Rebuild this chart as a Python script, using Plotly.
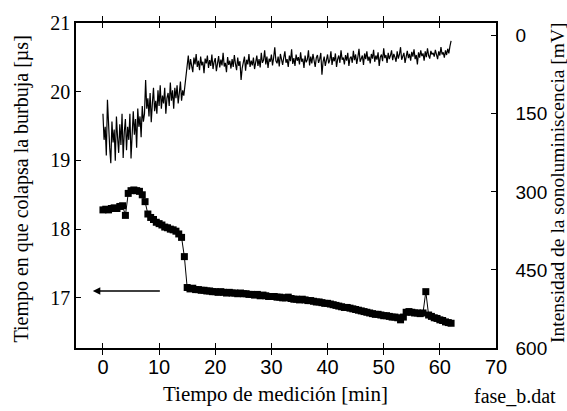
import numpy as np
import plotly.graph_objects as go

# Intensity of sonoluminescence [mV] (right axis), one sample every 0.2 min starting at 0
intensity = [
    150, 200, 175, 230, 123, 190, 215, 245, 165, 205, 180, 240, 155, 195, 225, 170, 210, 150, 235, 185, 160, 220, 175,
    200, 150, 236, 170, 145, 190, 160, 215, 140, 175, 155, 195, 135, 165, 150,
    85, 140, 120, 155, 110, 166, 130, 100, 145, 125, 150, 105, 135, 95, 140, 115, 130, 100, 150, 120,
    110, 135, 90, 125, 105, 140, 100, 120, 95, 130, 110, 88, 125, 105, 115,
    95, 70,
    52, 38, 65, 45, 58, 70, 42, 55, 35, 60, 48, 66, 40, 57, 50, 72, 44, 53, 38, 62,
    47, 58, 36, 64, 50, 43, 68, 55, 39, 61, 46, 57, 33, 59, 52, 70, 41, 56, 48, 63,
    45, 60, 37, 54, 66, 42, 58, 49, 85, 62, 51, 40, 67, 46, 55, 35, 60, 48, 57, 42,
    64, 50, 38, 58, 45, 61, 33, 52, 47, 28, 55, 40, 62, 44, 50, 36, 57, 42, 22, 48,
    53, 40, 59, 35, 47, 56, 42, 30, 52, 45, 60, 38, 49, 26, 54, 43, 58, 36, 48, 41,
    55, 32, 50, 44, 62, 38, 51, 46, 28, 57, 40, 53, 35, 48, 60, 42, 37, 52, 45, 33,
    75, 50, 40, 58, 44, 36, 53, 47, 30, 56, 41, 49, 34, 60, 45, 38, 52, 28, 46, 42,
    55, 37, 48, 33, 58, 43, 40, 52, 29, 47, 36, 54, 41, 25, 50, 44, 38, 56, 34, 45,
    30, 48, 40, 53, 35, 44, 27, 50, 38, 46, 32, 58, 41, 36, 49, 24, 43, 37, 52, 33,
    45, 38, 28, 47, 35, 41, 50, 30, 44, 36, 22, 46, 39, 33, 52, 37, 29, 43, 35, 48,
    31, 40, 26, 45, 37, 55, 32, 42, 28, 39, 34, 48, 30, 41, 24, 38, 44, 29, 36, 33,
    40, 27, 35, 45, 30, 38, 22, 36, 32, 42, 28, 37, 25, 34, 20, 10,
]
t_int = np.round(np.arange(len(intensity)) * 0.2, 2)

# Bubble collapse time [us] (left axis), one sample every 0.5 min starting at 0
collapse = [
    18.28, 18.29, 18.28, 18.30, 18.31, 18.30, 18.33, 18.34,
    18.20, 18.52, 18.56, 18.57, 18.56, 18.55, 18.50, 18.40, 18.22, 18.17, 18.14,
    18.10, 18.08, 18.06, 18.03, 18.02, 18.00, 17.99, 17.97, 17.93, 17.88, 17.60,
    17.15, 17.13, 17.14, 17.12, 17.12, 17.11, 17.11, 17.10, 17.10, 17.09,
    17.09, 17.08, 17.09, 17.08, 17.07, 17.08, 17.07, 17.07, 17.06, 17.07,
    17.06, 17.06, 17.05, 17.05, 17.04, 17.05, 17.03, 17.04, 17.03, 17.02,
    17.02, 17.02, 17.01, 17.01, 17.00, 17.00, 17.01, 16.99, 16.98, 16.98,
    16.97, 16.98, 16.97, 16.96, 16.96, 16.95, 16.94, 16.94, 16.93, 16.92,
    16.92, 16.91, 16.90, 16.89, 16.88, 16.87, 16.86, 16.86, 16.85, 16.84,
    16.83, 16.82, 16.81, 16.80, 16.79, 16.78, 16.77, 16.76, 16.76, 16.75,
    16.74, 16.74, 16.73, 16.72, 16.72, 16.71, 16.68, 16.72, 16.79, 16.80,
    16.79, 16.78, 16.78, 16.77, 16.78, 17.09, 16.75, 16.73, 16.71, 16.70,
    16.68, 16.67, 16.65, 16.64, 16.63,
]
t_col = np.round(np.arange(len(collapse)) * 0.5, 2)

x_ticks = [0, 10, 20, 30, 40, 50, 60, 70]
y_ticks = [17, 18, 19, 20, 21]
y2_ticks = [0, 150, 300, 450, 600]

SERIF = "Liberation Serif, Times New Roman, serif"
SANS = "Liberation Sans, Arial, sans-serif"

fig = go.Figure()
fig.add_trace(go.Scatter(
    x=t_col, y=collapse, mode="lines+markers",
    line=dict(color="black", width=1),
    marker=dict(symbol="square", size=7, color="black"),
    yaxis="y", showlegend=False,
))
fig.add_trace(go.Scatter(
    x=t_int, y=intensity, mode="lines",
    line=dict(color="black", width=1.2),
    yaxis="y2", showlegend=False,
))

fig.update_layout(
    width=567, height=411,
    margin=dict(l=76, r=71, t=17, b=63),
    paper_bgcolor="white", plot_bgcolor="white",
    xaxis=dict(
        range=[-4.8, 70], tickvals=x_ticks, ticks="inside", ticklen=5,
        tickcolor="black", showline=True, linecolor="black", linewidth=1.5,
        mirror="allticks", showgrid=False, zeroline=False,
        tickfont=dict(family=SANS, size=20, color="black"),
    ),
    yaxis=dict(
        range=[16.27, 21], tickvals=y_ticks, ticks="inside", ticklen=5,
        tickcolor="black", showline=True, linecolor="black", linewidth=1.5,
        mirror=True, showgrid=False, zeroline=False,
        tickfont=dict(family=SERIF, size=20, color="black"),
    ),
    yaxis2=dict(
        range=[600, -24.5], tickvals=y2_ticks, ticks="inside", ticklen=5,
        tickcolor="black", overlaying="y", side="right", showline=True,
        linecolor="black", linewidth=1.5, showgrid=False, zeroline=False,
        tickfont=dict(family=SANS, size=19, color="black"),
        ticklabelstandoff=14,
    ),
)

fig.add_annotation(
    x=-1.8, y=17.1, ax=10.4, ay=17.1, xref="x", yref="y", axref="x", ayref="y",
    showarrow=True, arrowhead=2, arrowsize=1, arrowwidth=1.5, arrowcolor="black", text="",
)
fig.add_annotation(
    text="Tiempo en que colapsa la burbuja [µs]", textangle=-90,
    xref="paper", yref="paper", x=-0.129, y=0.49, xanchor="center", yanchor="middle",
    showarrow=False, font=dict(family=SERIF, size=20, color="black"),
)
fig.add_annotation(
    text="Intensidad de la sonoluminiscencia [mV]", textangle=-90,
    xref="paper", yref="paper", x=1.147, y=0.51, xanchor="center", yanchor="middle",
    showarrow=False, font=dict(family=SERIF, size=19.5, color="black"),
)
fig.add_annotation(
    text="Tiempo de medición [min]",
    xref="paper", yref="paper", x=0.476, y=-0.142, xanchor="center", yanchor="middle",
    showarrow=False, font=dict(family=SERIF, size=21, color="black"),
)
fig.add_annotation(
    text="fase_b.dat",
    xref="paper", yref="paper", x=1.045, y=-0.148, xanchor="center", yanchor="middle",
    showarrow=False, font=dict(family=SERIF, size=20, color="black"),
)

fig.write_html(
    "out.html",
    config={"displayModeBar": False},
    post_script="document.body.style.margin='0';document.body.style.padding='0';",
)
